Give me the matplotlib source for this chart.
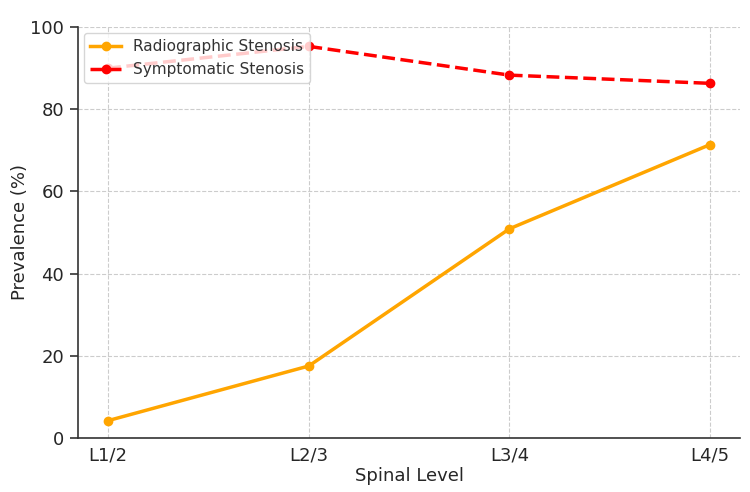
import matplotlib
matplotlib.use("Agg")
import matplotlib.pyplot as plt

# Prevalence of stenosis by spinal level
levels = ["L1/2", "L2/3", "L3/4", "L4/5"]
radiographic = [4.2, 17.5, 50.9, 71.4]
symptomatic = [90.0, 95.3, 88.3, 86.3]

fig, ax = plt.subplots(figsize=(7.5, 4.92), dpi=100)
fig.subplots_adjust(left=0.104, right=0.987, bottom=0.11, top=0.945)

x = range(len(levels))
ax.plot(x, radiographic, color="orange", marker="o", linewidth=2.5,
        markersize=6, label="Radiographic Stenosis")
ax.plot(x, symptomatic, color="red", marker="o", linestyle="--", linewidth=2.5,
        markersize=6, label="Symptomatic Stenosis")

ax.set_xticks(list(x))
ax.set_xticklabels(levels)
ax.set_ylim(0, 100)
ax.set_xlabel("Spinal Level", fontsize=13, color="#262626", labelpad=2)
ax.set_ylabel("Prevalence (%)", fontsize=13, color="#262626", labelpad=1)

ax.grid(True, linestyle="--", color="#cccccc", linewidth=0.8)
ax.set_axisbelow(True)
for side in ["top", "right"]:
    ax.spines[side].set_visible(False)
for side in ["left", "bottom"]:
    ax.spines[side].set_color("#333333")
    ax.spines[side].set_linewidth(1.2)
ax.tick_params(labelsize=13, colors="#262626", width=1.2)
ax.tick_params(axis="y", length=6, color="#333333", pad=4)
ax.tick_params(axis="x", length=0, pad=6)

ax.legend(loc="upper left", fontsize=11, labelcolor="#333333",
          borderaxespad=0.4)

fig.savefig("out.png", dpi=100)
